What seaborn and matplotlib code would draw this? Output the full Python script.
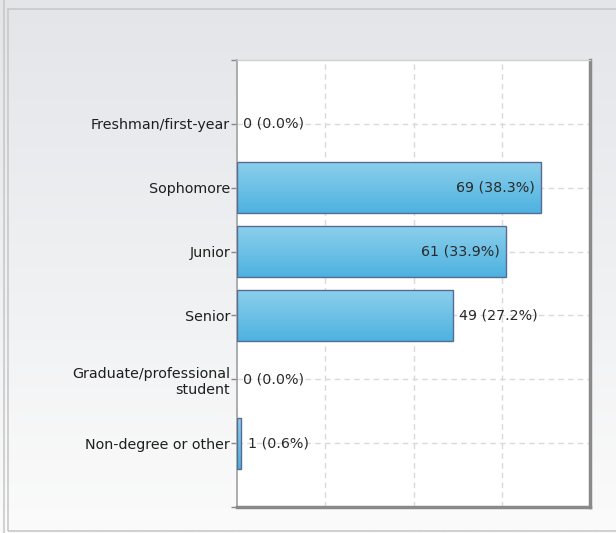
import numpy as np
import matplotlib
matplotlib.use("Agg")
import matplotlib.pyplot as plt
from matplotlib.colors import LinearSegmentedColormap
from matplotlib.patches import Rectangle
from matplotlib.lines import Line2D
import seaborn as sns

categories = ["Freshman/first-year", "Sophomore", "Junior", "Senior",
              "Graduate/professional\nstudent", "Non-degree or other"]
counts = [0, 69, 61, 49, 0, 1]
percents = [0.0, 38.3, 33.9, 27.2, 0.0, 0.6]

sns.set_theme(style="white")
plt.rcParams['font.family'] = ['DejaVu Sans']

fig = plt.figure(figsize=(6.16, 5.33), dpi=100)

# figure background gradient
bg = fig.add_axes([0, 0, 1, 1], zorder=-10)
grad = np.linspace(0, 1, 256).reshape(-1, 1)
bg_cmap = LinearSegmentedColormap.from_list("bg", ["#e3e5e9", "#fbfbfb"])
bg.imshow(grad, aspect="auto", cmap=bg_cmap, extent=[0, 1, 0, 1], origin="upper")
bg.set_xlim(0, 1); bg.set_ylim(0, 1)
bg.axis("off")
W, H = 616, 533
bg.add_patch(Rectangle((8 / W, 2 / H), 1 - 8 / W + 0.01, 1 - 11 / H, fill=False,
                       edgecolor="#c9c9c9", linewidth=1.2, transform=bg.transAxes))
bg.add_line(Line2D([3.5 / W, 3.5 / W], [0, 1], color="#c9c9c9", linewidth=1.2,
                   transform=bg.transAxes))

ax = fig.add_axes([237 / W, 1 - 507 / H, (590 - 237) / W, (507 - 60) / H])
ax.set_facecolor("white")

sns.barplot(x=counts, y=categories, orient="h", color="#6cc0e6",
            edgecolor="#5a6a92", linewidth=1.0, width=0.8, ax=ax, zorder=3)

bar_cmap = LinearSegmentedColormap.from_list("bar", ["#8dd0ec", "#4db2e0"])
for p in ax.patches:
    x0, y0 = p.get_x(), p.get_y()
    w, h = p.get_width(), p.get_height()
    if w <= 0:
        p.set_visible(False)
        continue
    p.set_facecolor("none")
    p.set_zorder(4)
    im = ax.imshow(grad, aspect="auto", cmap=bar_cmap,
                   extent=[x0, x0 + w, y0 + h, y0], origin="upper", zorder=3.5)
    im.set_clip_path(p)

FS = 10.3
ax.set_xlim(0, 80)
ax.set_ylim(6, -1)
ax.set_xticks([20, 40, 60])
ax.set_xticklabels([])
ax.set_yticks(range(len(categories)))
ax.set_yticklabels(categories, fontsize=FS, color="#1e1e1e", linespacing=1.2)
ax.set_xlabel(""); ax.set_ylabel("")
ax.grid(True, axis="both", linestyle=(0, (4, 3)), color="#d9d9d9", linewidth=1.0, zorder=0)
ax.set_axisbelow(True)
ax.tick_params(axis="y", length=4.5, width=1, color="#888888", pad=0.5, left=True)
ax.tick_params(axis="x", length=0)
ax.set_yticks([-1, 6], minor=True)
ax.tick_params(axis="y", which="minor", length=4, width=1, color="#888888", left=True)

for i, (c, pc) in enumerate(zip(counts, percents)):
    label = f"{c} ({pc:.1f}%)"
    if c > 55:
        ax.annotate(label, (c, i), xytext=(-4.5, 0), textcoords="offset points",
                    ha="right", va="center", fontsize=FS, color="#2a2a2a", zorder=6)
    else:
        ax.annotate(label, (c, i), xytext=(4.5, 0), textcoords="offset points",
                    ha="left", va="center", fontsize=FS, color="#2a2a2a", zorder=6)

ax.spines["left"].set_color("#a0a0a0"); ax.spines["left"].set_linewidth(1.2)
ax.spines["top"].set_color("#cfcfcf"); ax.spines["top"].set_linewidth(1.0)
ax.spines["right"].set_color("#8a8a8a"); ax.spines["right"].set_linewidth(2.5)
ax.spines["bottom"].set_color("#8a8a8a"); ax.spines["bottom"].set_linewidth(2.5)
for s in ax.spines.values():
    s.set_visible(True)

fig.savefig("out.png", dpi=100)
